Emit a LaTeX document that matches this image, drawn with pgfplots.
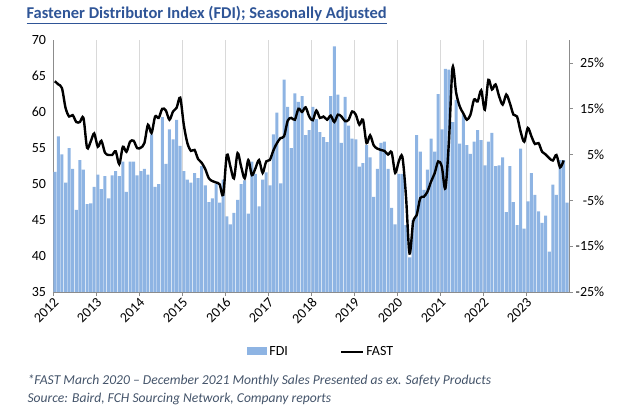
\documentclass[border=0pt]{standalone}
\usepackage{fontspec}
\setmainfont{Carlito}
\usepackage{pgfplots}
\usepackage{pgfplotstable}
\pgfplotsset{compat=1.18}
\definecolor{fdiblue}{RGB}{142,180,227}
\definecolor{titleblue}{RGB}{47,85,151}
\definecolor{notegray}{RGB}{68,84,106}
\definecolor{axisgray}{RGB}{140,140,140}
\definecolor{gridgray}{RGB}{217,217,217}

% FDI, monthly, Jan 2012 - Dec 2023
\pgfplotstableread{
fdi
51.7
56.6
54.1
50.2
55.0
52.1
46.4
53.3
52.0
47.2
47.3
49.6
51.3
49.3
51.1
48.0
51.2
51.8
51.1
53.1
48.9
53.1
53.1
51.2
51.8
52.1
51.3
56.9
49.6
50.0
59.3
52.8
57.6
56.2
58.9
55.3
51.8
50.6
50.2
51.5
50.8
52.5
49.8
47.5
48.0
50.0
47.4
50.6
45.5
44.4
46.0
47.8
50.0
50.5
45.9
53.1
51.4
46.9
50.6
51.6
49.8
56.9
59.9
50.1
64.5
60.7
55.0
62.6
61.4
62.2
56.8
57.5
60.7
59.0
57.2
56.5
55.8
62.2
69.1
62.4
55.7
62.1
58.1
56.3
56.2
52.4
52.9
55.4
53.7
48.2
52.1
55.7
55.9
52.1
46.7
44.4
51.4
51.4
44.3
39.8
45.0
56.8
54.5
49.2
52.0
56.3
54.5
62.5
57.6
66.0
65.9
58.6
61.7
55.6
59.7
55.4
54.2
55.9
57.5
56.1
52.6
55.9
57.1
52.5
52.6
53.7
46.1
52.5
47.5
44.3
54.9
43.8
47.6
51.5
48.5
46.2
44.6
45.6
40.6
49.9
48.5
53.3
53.3
47.4
}\fditable

% FAST monthly sales growth (%), Jan 2012 - Nov 2023
\pgfplotstableread{
fast
21.0
20.3
19.5
15.2
13.3
13.6
12.1
12.1
13.0
6.5
7.8
9.6
6.7
8.0
5.4
4.9
4.9
5.7
2.9
6.7
5.6
7.8
8.0
6.4
6.5
7.5
11.5
9.7
13.3
13.0
15.0
14.6
12.6
14.4
15.2
17.4
11.5
7.5
5.8
6.0
4.0
3.2
1.8
-0.2
-0.8
-1.1
-1.5
-3.8
4.9
2.4
-0.2
5.3
2.4
-0.2
3.8
0.5
2.0
3.8
1.0
3.5
3.8
5.9
7.5
8.6
9.0
12.4
13.0
12.6
15.0
14.3
15.3
13.3
12.5
14.6
13.0
13.3
12.6
13.5
12.1
13.7
13.3
12.3
12.6
14.4
13.7
11.5
12.6
7.5
9.2
7.0
6.3
6.0
5.8
5.0
5.5
1.0
3.5
4.5
-4.0
-16.6
-9.7
-8.2
-4.5
-4.2
-3.1
-0.9
0.9
3.5
2.4
-2.4
8.0
24.0
18.5
15.5
14.0
12.6
13.7
17.0
16.6
19.0
14.8
21.3
19.2
20.3
17.7
15.9
18.1
16.2
13.7
13.3
10.0
7.8
10.8
9.0
7.3
7.5
5.6
5.0
4.2
3.7
4.9
2.2
3.7
}\fasttable

\begin{document}
\begin{tikzpicture}
\path (0,0) rectangle (620bp,413bp);

\node[anchor=west, text=titleblue, font=\bfseries\fontsize{16.5bp}{19bp}\selectfont]
  at (23bp,398bp) {\underline{Fastener Distributor Index (FDI); Seasonally Adjusted}};

\begin{axis}[
    at={(53bp,121bp)}, anchor=south west,
    width=516bp, height=252bp, scale only axis,
    xmin=0, xmax=144, ymin=35, ymax=70,
    enlargelimits=false,
    axis x line*=bottom, axis y line*=left,
    axis line style={-, draw=axisgray, line width=0.8bp},
    xtick={0,12,...,132},
    xticklabels={2012,2013,2014,2015,2016,2017,2018,2019,2020,2021,2022,2023},
    x tick label style={rotate=45, anchor=north east, inner sep=1bp},
    xtick style={draw=axisgray, line width=0.8bp},
    tick align=outside, major tick length=3.5bp,
    xmajorgrids, grid style={draw=gridgray, line width=0.7bp},
    ytick={35,40,...,70},
    ytick style={draw=none},
    ticklabel style={font=\fontsize{14bp}{16bp}\selectfont},
    /pgf/number format/assume math mode=true,
    legend style={at={(0.52,-0.238)}, anchor=center, draw=none, fill=none,
      legend columns=2, font=\fontsize{14bp}{16bp}\selectfont,
      /tikz/every even column/.append style={column sep=50bp}},
]
\addplot[ybar, bar width=0.84, bar shift=0pt, fill=fdiblue, draw=none,
  legend image code/.code={\fill[fdiblue] (0bp,-3.5bp) rectangle (20bp,4.5bp);}]
  table[x expr=\coordindex+0.5, y=fdi] {\fditable};
\addlegendentry{FDI}
\addlegendimage{legend image code/.code={\draw[black, line width=2.4bp] (0bp,0bp) -- (22bp,0bp);}}
\addlegendentry{FAST}
\end{axis}

\begin{axis}[
    at={(53bp,121bp)}, anchor=south west,
    width=516bp, height=252bp, scale only axis,
    xmin=0, xmax=144, ymin=-25, ymax=30,
    enlargelimits=false,
    axis x line=none, axis y line*=right,
    axis line style={-, draw=axisgray, line width=0.8bp},
    ytick={-25,-15,...,25},
    yticklabels={\mbox{-25\%},\mbox{-15\%},\mbox{-5\%},\mbox{5\%},\mbox{15\%},\mbox{25\%}},
    yticklabel style={anchor=west, text width=30bp, align=flush right, inner sep=1.5bp,
      font=\fontsize{14bp}{16bp}\selectfont},
    ytick style={draw=axisgray, line width=0.8bp},
    tick align=outside, major tick length=3.5bp,
]
\addplot[black, line width=2.4bp, smooth, tension=0.5]
  table[x expr=\coordindex+0.5, y=fast] {\fasttable};
\end{axis}

\node[anchor=west, text=notegray, font=\itshape\fontsize{13.6bp}{16bp}\selectfont]
  at (24bp,32bp) {*FAST March 2020 -- December 2021 Monthly Sales Presented as ex. Safety Products};
\node[anchor=west, text=notegray, font=\itshape\fontsize{13.6bp}{16bp}\selectfont]
  at (24bp,14bp) {Source: Baird, FCH Sourcing Network, Company reports};
\end{tikzpicture}
\end{document}
